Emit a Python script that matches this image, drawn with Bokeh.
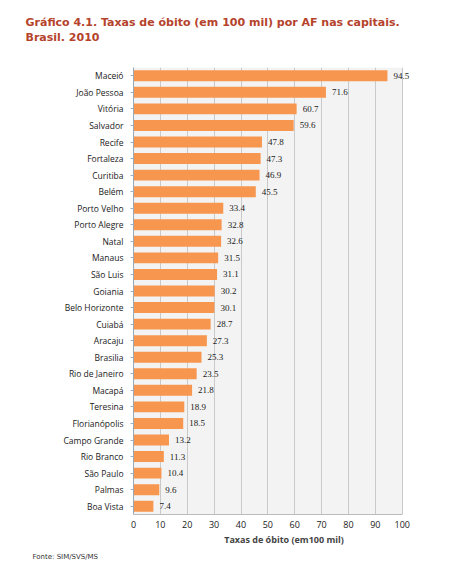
from bokeh.plotting import figure
from bokeh.models import ColumnDataSource, Title, FactorRange, FixedTicker, LabelSet, BoxAnnotation
from bokeh.embed import file_html
from bokeh.resources import INLINE

cities = ["Maceió", "João Pessoa", "Vitória", "Salvador", "Recife", "Fortaleza",
          "Curitiba", "Belém", "Porto Velho", "Porto Alegre", "Natal", "Manaus",
          "São Luis", "Goiania", "Belo Horizonte", "Cuiabá", "Aracaju", "Brasilia",
          "Rio de Janeiro", "Macapá", "Teresina", "Florianópolis", "Campo Grande",
          "Rio Branco", "São Paulo", "Palmas", "Boa Vista"]
rates = [94.5, 71.6, 60.7, 59.6, 47.8, 47.3, 46.9, 45.5, 33.4, 32.8, 32.6, 31.5,
         31.1, 30.2, 30.1, 28.7, 27.3, 25.3, 23.5, 21.8, 18.9, 18.5, 13.2,
         11.3, 10.4, 9.6, 7.4]
x_ticks = [0, 10, 20, 30, 40, 50, 60, 70, 80, 90, 100]

title1 = "Gráfico 4.1. Taxas de óbito (em 100 mil) por AF nas capitais."
title2 = "Brasil. 2010"
x_title = "Taxas de óbito (em100 mil)"
source_note = "Fonte: SIM/SVS/MS"

src = ColumnDataSource(dict(city=cities, rate=rates,
                            lbl=[f"{v:.1f}" for v in rates]))

p = figure(width=460, height=573, output_backend="svg", toolbar_location=None,
           y_range=FactorRange(factors=list(reversed(cities)), range_padding=0),
           x_range=(0, 112),
           min_border_left=133, min_border_right=26,
           min_border_top=67, min_border_bottom=59)
p.background_fill_color = "white"
p.border_fill_color = "white"
p.outline_line_color = None

bg = BoxAnnotation(left=0, right=100, fill_color="#f3f3f3", fill_alpha=1,
                   line_color=None, level="image")
p.add_layout(bg)

p.hbar(y="city", right="rate", height=0.66, source=src,
       fill_color="#f7964f", line_color=None)

labels = LabelSet(x="rate", y="city", text="lbl", source=src, x_offset=6,
                  text_baseline="middle", text_font_size="9px",
                  text_font="Open Sans", text_color="#1a1a1a")
p.add_layout(labels)

p.xgrid.grid_line_color = "#c9c9c9"
p.ygrid.grid_line_color = None
p.xaxis.ticker = FixedTicker(ticks=x_ticks)
p.xgrid.ticker = FixedTicker(ticks=x_ticks)
p.xaxis.bounds = (0, 100)
p.xaxis.axis_label = x_title
p.xaxis.axis_label_text_font = "Open Sans"
p.xaxis.axis_label_text_font_style = "bold"
p.xaxis.axis_label_text_font_size = "9px"
p.xaxis.axis_label_standoff = 2
p.xaxis.major_label_text_font = "Open Sans"
p.xaxis.major_label_text_font_size = "9px"
p.xaxis.major_label_text_color = "#1a1a1a"
p.xaxis.axis_line_color = "#bbbbbb"
p.xaxis.major_tick_line_color = None
p.xaxis.minor_tick_line_color = None
p.xaxis.major_label_standoff = 0

p.yaxis.axis_line_color = "#9aa7b5"
p.yaxis.major_tick_line_color = "#9ab0c8"
p.yaxis.major_tick_out = 3
p.yaxis.major_tick_in = 0
p.yaxis.major_label_text_font = "Open Sans"
p.yaxis.major_label_text_font_size = "8.5px"
p.yaxis.major_label_text_color = "#1a1a1a"
p.yaxis.major_label_standoff = 7

tcol = "#b5432c"
spacer = Title(text=".", text_color="white", text_font_size="10px", standoff=14)
t2 = Title(text=title2, align="left", offset=-108, text_font="DejaVu Sans",
           text_font_style="bold", text_font_size="11px", text_color=tcol, standoff=0)
t1 = Title(text=title1, align="left", offset=-108, text_font="DejaVu Sans",
           text_font_style="bold", text_font_size="11px", text_color=tcol, standoff=0)
p.add_layout(spacer, "above")
p.add_layout(t2, "above")
p.add_layout(t1, "above")
src_t = Title(text=source_note, align="left", offset=-101, text_font="DejaVu Sans",
              text_font_style="normal", text_font_size="7px", text_color="#333333",
              standoff=4)
p.add_layout(src_t, "below")

open("out.html", "w").write(file_html(p, INLINE))
